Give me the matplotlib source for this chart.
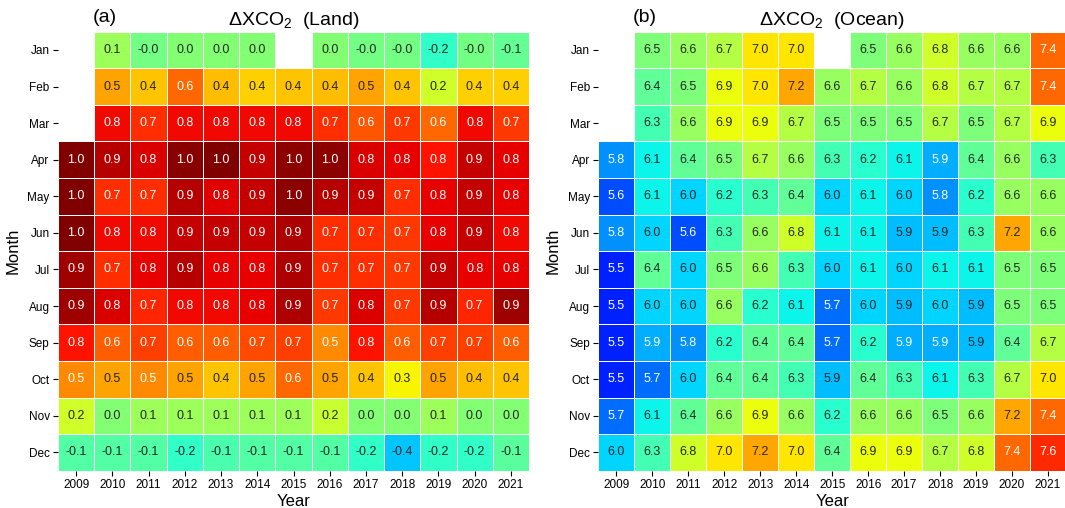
import numpy as np
import matplotlib
matplotlib.use('Agg')
import matplotlib.pyplot as plt
from matplotlib.colors import Normalize

years = [str(y) for y in range(2009, 2022)]
months = ['Jan', 'Feb', 'Mar', 'Apr', 'May', 'Jun',
          'Jul', 'Aug', 'Sep', 'Oct', 'Nov', 'Dec']
nan = np.nan

# ΔXCO2 over land (rows: months, columns: 2009..2021)
land = [
    [nan, 0.08, -0.02, 0.02, 0.02, 0.02, nan, 0.02, -0.02, -0.02, -0.18, -0.02, -0.06],
    [nan, 0.47, 0.40, 0.60, 0.42, 0.38, 0.40, 0.42, 0.47, 0.40, 0.20, 0.38, 0.38],
    [nan, 0.80, 0.72, 0.80, 0.80, 0.80, 0.80, 0.72, 0.64, 0.70, 0.60, 0.80, 0.70],
    [1.00, 0.90, 0.84, 0.98, 1.00, 0.88, 0.97, 0.97, 0.84, 0.82, 0.78, 0.88, 0.82],
    [1.00, 0.72, 0.72, 0.90, 0.83, 0.88, 0.97, 0.90, 0.88, 0.72, 0.82, 0.88, 0.82],
    [1.00, 0.80, 0.80, 0.88, 0.88, 0.88, 0.92, 0.72, 0.72, 0.70, 0.82, 0.88, 0.80],
    [0.94, 0.72, 0.82, 0.90, 0.82, 0.82, 0.92, 0.72, 0.72, 0.70, 0.88, 0.82, 0.82],
    [0.94, 0.84, 0.74, 0.80, 0.80, 0.82, 0.92, 0.70, 0.84, 0.70, 0.90, 0.74, 0.94],
    [0.78, 0.62, 0.68, 0.62, 0.62, 0.66, 0.68, 0.53, 0.78, 0.62, 0.68, 0.68, 0.62],
    [0.53, 0.47, 0.53, 0.47, 0.40, 0.47, 0.60, 0.47, 0.40, 0.30, 0.47, 0.42, 0.40],
    [0.20, 0.02, 0.08, 0.08, 0.08, 0.08, 0.08, 0.18, 0.02, 0.02, 0.08, 0.02, 0.02],
    [-0.10, -0.10, -0.10, -0.18, -0.12, -0.10, -0.10, -0.10, -0.18, -0.36, -0.18, -0.18, -0.08],
]

# ΔXCO2 over ocean
ocean = [
    [nan, 6.50, 6.60, 6.70, 7.00, 7.00, nan, 6.50, 6.60, 6.80, 6.60, 6.60, 7.40],
    [nan, 6.40, 6.50, 6.90, 7.00, 7.20, 6.60, 6.70, 6.60, 6.80, 6.70, 6.70, 7.40],
    [nan, 6.30, 6.60, 6.90, 6.90, 6.70, 6.50, 6.50, 6.50, 6.70, 6.50, 6.70, 6.90],
    [5.80, 6.10, 6.40, 6.50, 6.70, 6.60, 6.30, 6.20, 6.10, 5.88, 6.40, 6.60, 6.30],
    [5.60, 6.10, 6.00, 6.20, 6.30, 6.40, 6.00, 6.10, 6.00, 5.80, 6.20, 6.60, 6.60],
    [5.80, 6.00, 5.60, 6.30, 6.60, 6.80, 6.10, 6.10, 5.93, 5.93, 6.30, 7.20, 6.60],
    [5.47, 6.40, 6.00, 6.50, 6.60, 6.30, 6.00, 6.10, 6.00, 6.10, 6.10, 6.50, 6.50],
    [5.47, 6.00, 6.00, 6.60, 6.20, 6.10, 5.70, 6.00, 5.93, 6.00, 5.93, 6.50, 6.50],
    [5.47, 5.88, 5.80, 6.20, 6.40, 6.40, 5.70, 6.20, 5.88, 5.88, 5.93, 6.40, 6.70],
    [5.47, 5.70, 6.00, 6.40, 6.40, 6.30, 5.93, 6.40, 6.30, 6.10, 6.30, 6.70, 7.00],
    [5.70, 6.10, 6.40, 6.60, 6.90, 6.60, 6.20, 6.60, 6.60, 6.50, 6.60, 7.20, 7.40],
    [6.00, 6.30, 6.80, 7.00, 7.20, 7.00, 6.40, 6.90, 6.90, 6.70, 6.80, 7.40, 7.60],
]

plt.rcParams['font.family'] = ['Liberation Sans', 'DejaVu Sans']
plt.rcParams['mathtext.fontset'] = 'custom'
plt.rcParams['mathtext.rm'] = 'Liberation Sans'
plt.rcParams['mathtext.it'] = 'Liberation Sans:italic'
plt.rcParams['mathtext.bf'] = 'Liberation Sans:bold'

W, H = 1065, 508
fig = plt.figure(figsize=(W / 100, H / 100), dpi=100)
ax1 = fig.add_axes([58 / W, 37.3 / H, 471 / W, 439 / H])
ax2 = fig.add_axes([598.3 / W, 37.3 / H, 467.7 / W, 439 / H])


def rel_lum(rgb):
    rgb = np.asarray(rgb)[:3]
    rgb = np.where(rgb <= 0.03928, rgb / 12.92, ((rgb + 0.055) / 1.055) ** 2.4)
    return float(rgb.dot([0.2126, 0.7152, 0.0722]))


def draw(ax, data, vmin, vmax, title, tag):
    arr = np.ma.masked_invalid(np.array(data, dtype=float))
    cmap = plt.get_cmap('jet')
    norm = Normalize(vmin, vmax)
    ax.pcolormesh(np.arange(len(years) + 1), np.arange(len(months) + 1), arr,
                  cmap=cmap, norm=norm, edgecolors='white', linewidth=0.6)
    ax.set_xlim(0, len(years))
    ax.set_ylim(len(months), 0)
    for i in range(len(months)):
        for j in range(len(years)):
            v = arr[i, j]
            if np.ma.is_masked(v):
                continue
            c = cmap(norm(v))
            tc = '#262626' if rel_lum(c) > 0.408 else 'white'
            ax.text(j + 0.5, i + 0.5, f'{v:.1f}', ha='center', va='center',
                    fontsize=9, color=tc)
    ax.set_xticks(np.arange(len(years)) + 0.5)
    ax.set_xticklabels(years)
    ax.set_yticks(np.arange(len(months)) + 0.5)
    ax.set_yticklabels(months)
    ax.tick_params(axis='both', length=3.5, width=0.8, labelsize=8.5, pad=2.5)
    for s in ax.spines.values():
        s.set_visible(False)
    ax.set_xlabel('Year', fontsize=12, labelpad=2)
    ax.set_ylabel('Month', fontsize=12, labelpad=5)
    ax.set_title(title, fontsize=14, pad=5)
    ax.text(0.073, 1.012, tag, transform=ax.transAxes, fontsize=14,
            ha='left', va='bottom')


draw(ax1, land, -1.0, 1.0, 'ΔXCO$_2$  (Land)', '(a)')
draw(ax2, ocean, 5.0, 8.0, 'ΔXCO$_2$  (Ocean)', '(b)')

fig.savefig('out.png', dpi=100)
